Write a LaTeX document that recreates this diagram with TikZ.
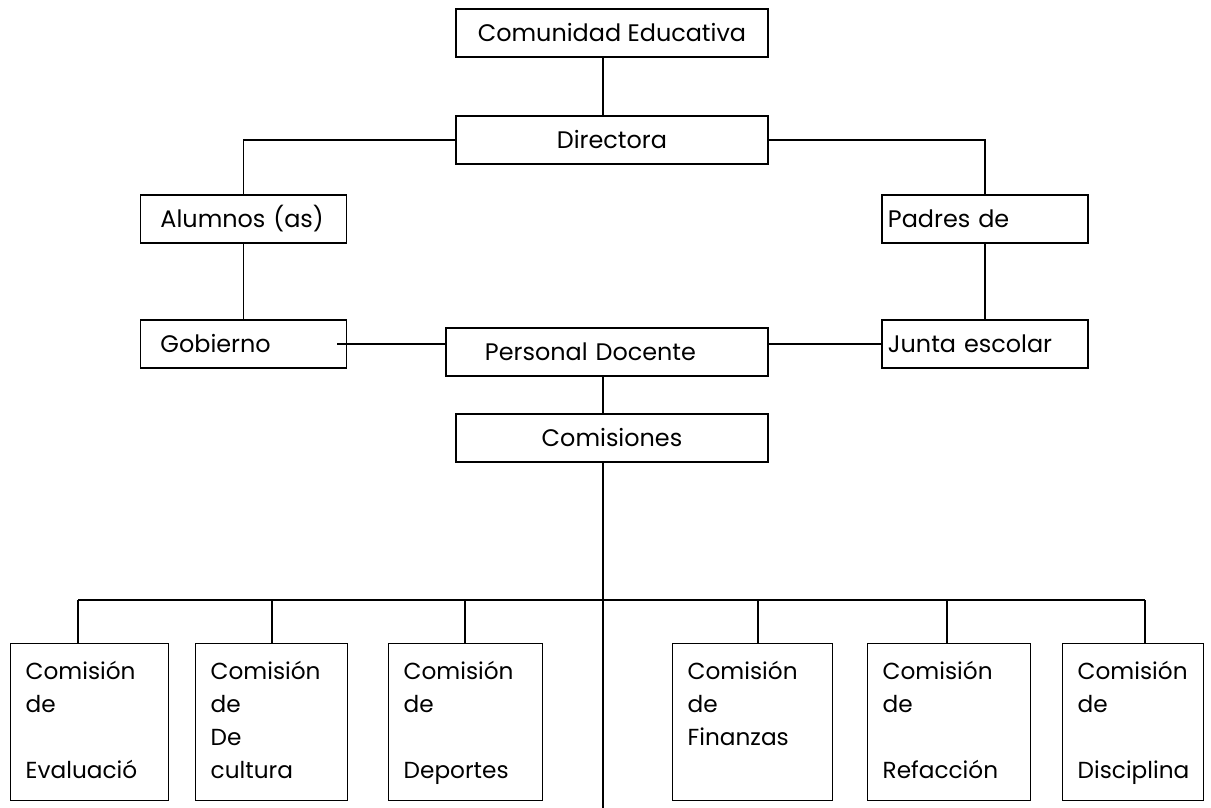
\documentclass[tikz,border=0pt]{standalone}
\usepackage{fontspec}
\setmainfont{Poppins}
\begin{document}
\begin{tikzpicture}[x=0.025cm,y=-0.025cm,
    caja/.style={draw, line width=1pt, minimum width=7.8cm, minimum height=1.2cm, inner sep=0pt, font=\fontsize{17}{20}\selectfont},
    cajaiz/.style={draw, line width=1pt, minimum height=1.2cm, align=left, font=\fontsize{17}{20}\selectfont},
    comision/.style={draw, line width=1pt, anchor=north west, align=left, inner xsep=0.375cm, minimum height=3.925cm,
        font=\fontsize{16.5}{23.5}\selectfont, execute at begin node=\strut, execute at end node=\strut},
    linea/.style={line width=0.9pt}]
    \useasboundingbox (0,0) rectangle (1211,808);

    \node[caja] (ce) at (612,33) {Comunidad Educativa};
    \node[caja] (dir) at (612,140) {Directora};
    \node[cajaiz, text width=4.15cm, inner xsep=0.5cm] (alu) at (243.5,219) {Alumnos (as)};
    \node[cajaiz, text width=4.85cm, inner xsep=0.15cm] (pad) at (985,219) {Padres de};
    \node[cajaiz, text width=4.15cm, inner xsep=0.5cm] (gob) at (243.5,344) {Gobierno};
    \node[cajaiz, text width=4.85cm, inner xsep=0.15cm] (jun) at (985,344) {Junta escolar};
    \node[cajaiz, text width=6.1cm, inner xsep=0.975cm] (doc) at (607,352) {Personal Docente};
    \node[caja] (com) at (612,438) {Comisiones};

    \node[comision, text width=3.2cm] (c1) at (10,643) {Comisión\\de\\\mbox{}\\Evaluació};
    \node[comision, text width=3.05cm] (c2) at (195,643) {Comisión\\de\\De\\cultura};
    \node[comision, text width=3.1cm] (c3) at (388,643) {Comisión\\de\\\mbox{}\\Deportes};
    \node[comision, text width=3.25cm] (c4) at (672,643) {Comisión\\de\\Finanzas\\\mbox{}};
    \node[comision, text width=3.325cm] (c5) at (867,643) {Comisión\\de\\\mbox{}\\Refacción};
    \node[comision, text width=2.775cm] (c6) at (1062,643) {Comisión\\de\\\mbox{}\\Disciplina};

    \coordinate (eje) at (603,0);
    \coordinate (fin) at (603,808);
    \draw[linea] (ce.south -| eje) -- (dir.north -| eje);
    \draw[linea] (dir.west) -| (alu);
    \draw[linea] (dir.east) -| (pad);
    \draw[linea] (alu) -- (gob);
    \draw[linea] (pad) -- (jun);
    \draw[linea] (gob.east) ++(-10,0) -- (gob.east -| doc.west);
    \draw[linea] (doc.east |- jun.west) -- (jun.west);
    \draw[linea] (doc.south -| eje) -- (com.north -| eje);
    \draw[line width=1.2pt] (com.south -| eje) -- (fin);

    % barra de comisiones
    \coordinate (bizq) at (78,600);
    \coordinate (bder) at (1145,600);
    \draw[linea] (bizq) -- (bder);
    \foreach \n/\x in {c1/78,c2/272,c3/465,c4/758,c5/947,c6/1145}{
        \coordinate (b\n) at (\x,600);
        \draw[linea] (b\n) -- (b\n |- \n.north);
    }
\end{tikzpicture}
\end{document}
